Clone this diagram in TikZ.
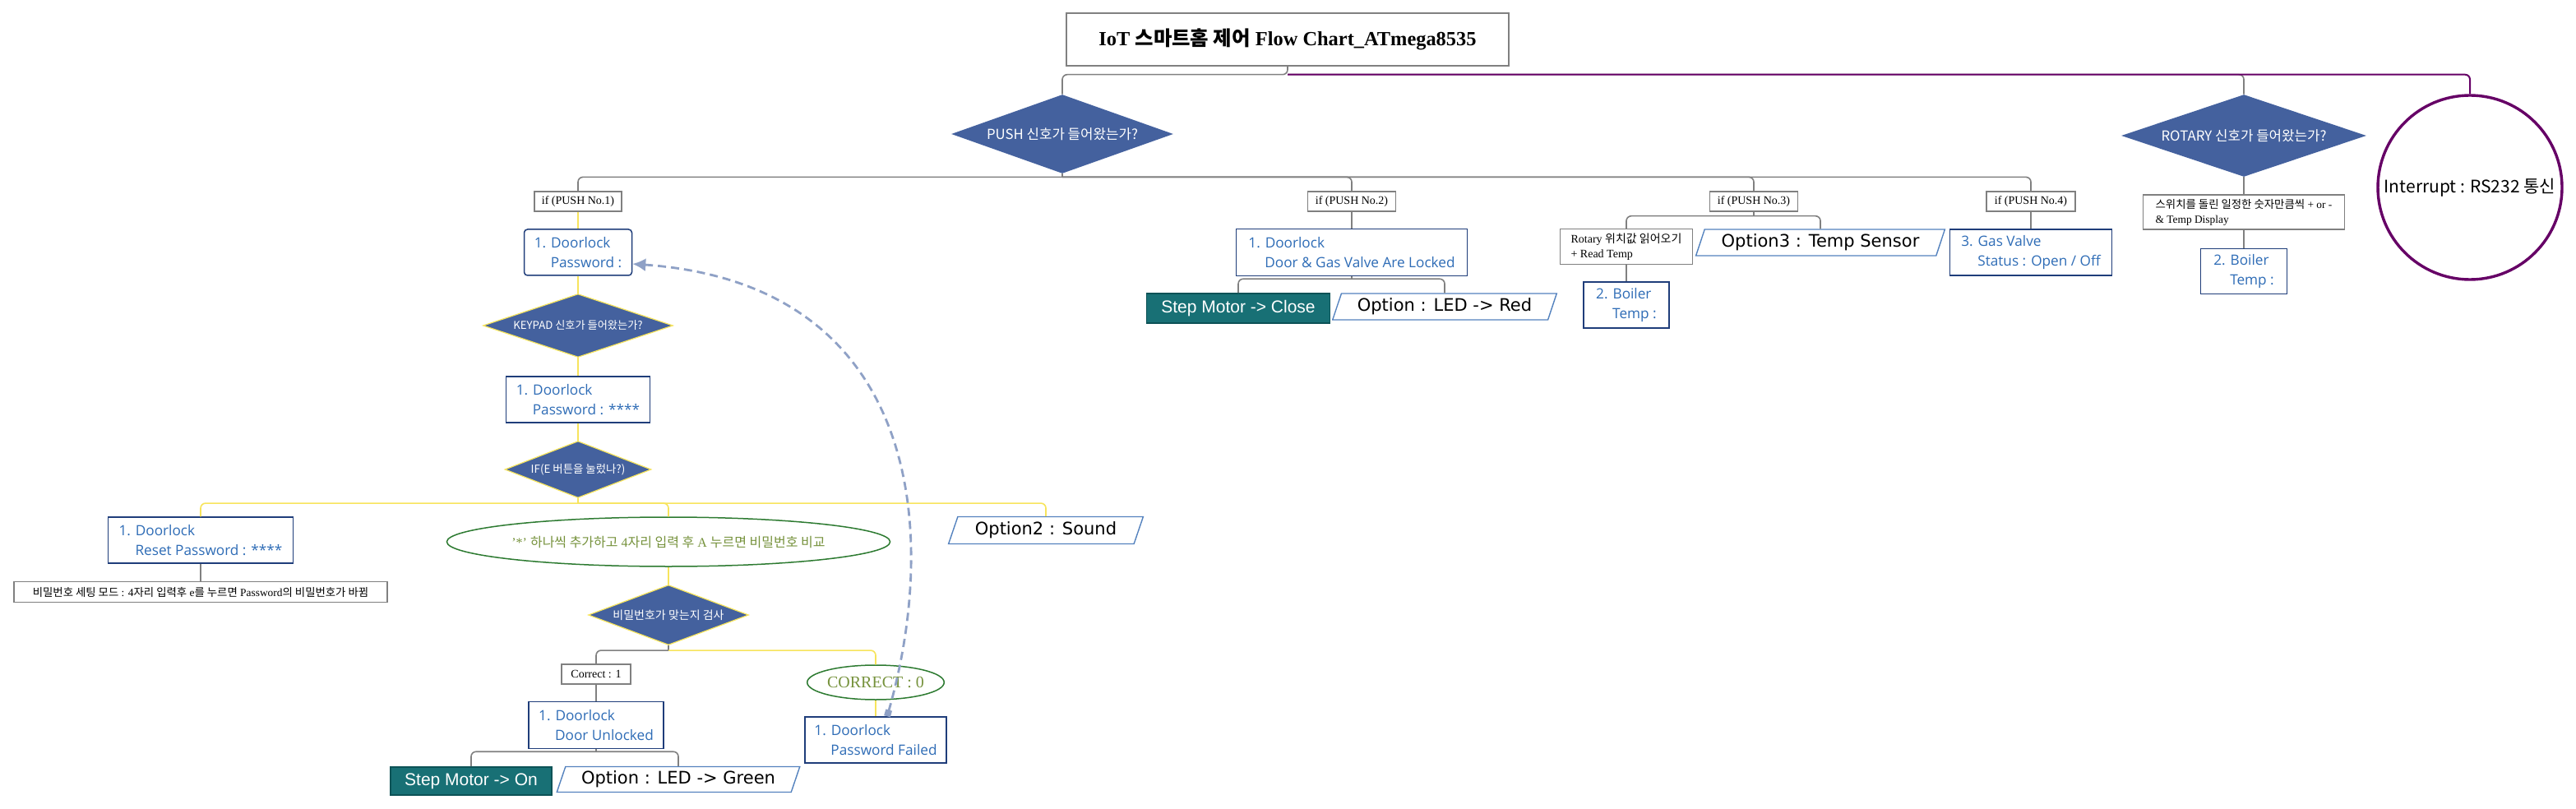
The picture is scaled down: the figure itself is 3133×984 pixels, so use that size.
\documentclass[tikz,border=0pt]{standalone}
\usepackage{fontspec}
\setmainfont{Liberation Serif}
\newfontfamily\cjk{Noto Sans CJK KR}
\newfontfamily\opensans{Open Sans}
\newfontfamily\dejavu{DejaVu Sans}
\newfontfamily\libsans{Liberation Sans}
\usetikzlibrary{shapes.geometric,arrows.meta}
\newcommand{\kr}[1]{{\cjk #1}}
\definecolor{lgray}{RGB}{128,128,128}
\definecolor{lyellow}{RGB}{247,228,92}
\definecolor{dpurple}{RGB}{102,0,102}
\definecolor{boxnavy}{RGB}{31,61,122}
\definecolor{tblue}{RGB}{46,108,182}
\definecolor{tealfill}{RGB}{24,112,117}
\definecolor{tealedge}{RGB}{12,82,86}
\definecolor{optblue}{RGB}{84,130,190}
\definecolor{dblue}{RGB}{68,97,158}
\definecolor{egreen}{RGB}{44,122,48}
\definecolor{eolive}{RGB}{118,146,60}
\definecolor{relblue}{RGB}{143,161,198}
\tikzset{
  gline/.style={draw=lgray,line width=0.8pt,rounded corners=3pt},
  yline/.style={draw=lyellow,line width=0.8pt,rounded corners=3pt},
  pline/.style={draw=dpurple,line width=1pt,rounded corners=3pt},
  graybox/.style={draw=lgray,line width=0.7pt,fill=white,inner sep=0pt,font=\fontsize{7}{9}\selectfont},
  bluebox/.style={draw=boxnavy,line width=0.75pt,fill=white,text=tblue,align=left,inner sep=0pt,font=\opensans\fontsize{8.6}{12}\selectfont},
  tealbox/.style={draw=tealedge,fill=tealfill,text=white,line width=0.9pt,inner sep=0pt,font=\libsans\fontsize{10.5}{12}\selectfont},
  optbox/.style={trapezium,trapezium left angle=66,trapezium right angle=114,trapezium stretches=true,draw=optblue,line width=0.7pt,fill=white,inner sep=0pt,font=\dejavu\fontsize{10.5}{12}\selectfont},
  decision/.style={diamond,fill=dblue,text=white,inner sep=0pt},
  noteell/.style={ellipse,draw=egreen,line width=0.75pt,fill=white,text=eolive,inner sep=0pt},
  relarrow/.style={draw=relblue,line width=1.4pt,dash pattern=on 5pt off 3pt,{Square[length=4pt,width=4pt]}-{Latex[length=8pt,width=8pt]}},
}
\begin{document}
\begin{tikzpicture}[x=0.5pt,y=-0.5pt] % 1 px = 0.5 pt, y hacia abajo
  \useasboundingbox (0,0) rectangle (3133,984);
  \node[graybox,minimum width=269pt,minimum height=32pt,font=\bfseries\fontsize{12.2}{14}\selectfont] (title) at (1566,48) {IoT \kr{스마트홈 제어} Flow Chart\_ATmega8535};
  \node[decision,aspect=2.8,minimum width=135pt,minimum height=48pt,font=\cjk\fontsize{8.4}{10}\selectfont] (push) at (1292,163) {PUSH 신호가 들어왔는가?};
  \node[decision,aspect=3,minimum width=149pt,minimum height=50pt,font=\cjk\fontsize{8.4}{10}\selectfont] (rotary) at (2729,165) {ROTARY 신호가 들어왔는가?};
  \node[circle,draw=dpurple,line width=1.7pt,minimum size=112pt,inner sep=0pt,font=\cjk\fontsize{10.5}{12}\selectfont] (irq) at (3004,228) {Interrupt : RS232 통신};
  \node[graybox,minimum width=53pt,minimum height=12pt] (if1) at (703,245) {if (PUSH No.1)};
  \node[graybox,minimum width=53.5pt,minimum height=12pt] (if2) at (1644,245) {if (PUSH No.2)};
  \node[graybox,minimum width=53.5pt,minimum height=12pt] (if3) at (2133,245) {if (PUSH No.3)};
  \node[graybox,minimum width=54pt,minimum height=12pt] (if4) at (2470,245) {if (PUSH No.4)};
  \node[bluebox,rounded corners=2pt,minimum width=65.5pt,minimum height=28pt] (pw1) at (703,307) {1. Doorlock\\\hspace*{10pt}Password :};
  \node[decision,draw=lyellow,line width=0.6pt,aspect=3,minimum width=115.5pt,minimum height=38.5pt,font=\cjk\fontsize{6.6}{8}\selectfont] (keypad) at (703,396) {KEYPAD 신호가 들어왔는가?};
  \node[bluebox,minimum width=87.5pt,minimum height=28pt] (pw2) at (703,486) {1. Doorlock\\\hspace*{10pt}Password : ****};
  \node[decision,draw=lyellow,line width=0.6pt,aspect=2.6,minimum width=89pt,minimum height=34.5pt,font=\cjk\fontsize{6.7}{8}\selectfont] (ife) at (703,571) {IF(E 버튼을 눌렀나?)};
  \node[bluebox,minimum width=112.5pt,minimum height=28pt] (reset) at (244,657) {1. Doorlock\\\hspace*{10pt}Reset Password : ****};
  \node[graybox,minimum width=227pt,minimum height=12.5pt,font=\fontsize{6.7}{8}\selectfont] (note) at (244,720) {\kr{비밀번호 세팅 모드} : 4\kr{자리 입력후} e\kr{를 누르면} Password\kr{의 비밀번호가 바뀜}};
  \node[noteell,minimum width=234pt,minimum height=30pt,font=\fontsize{8}{10}\selectfont] (hint) at (813,659) {'*' \kr{하나씩 추가하고} 4\kr{자리 입력 후} A \kr{누르면 비밀번호 비교}};
  \node[optbox,minimum width=118.5pt,minimum height=16.5pt] (opt2) at (1272,645) {Option2 : Sound};
  \node[decision,draw=lyellow,line width=0.6pt,aspect=2.67,minimum width=97.5pt,minimum height=36.5pt,font=\cjk\fontsize{7}{8}\selectfont] (check) at (813,748) {비밀번호가 맞는지 검사};
  \node[graybox,minimum width=42pt,minimum height=12pt] (correct1) at (725,820) {Correct : 1};
  \node[noteell,minimum width=73.5pt,minimum height=21pt,font=\fontsize{10}{12}\selectfont] (correct0) at (1065,830) {CORRECT : 0};
  \node[bluebox,minimum width=82pt,minimum height=28.5pt] (unlocked) at (725,882) {1. Doorlock\\\hspace*{10pt}Door Unlocked};
  \node[bluebox,minimum width=86pt,minimum height=28pt] (failed) at (1065,900) {1. Doorlock\\\hspace*{10pt}Password Failed};
  \node[tealbox,minimum width=98pt,minimum height=17pt] (stepon) at (573,950) {Step Motor -> On};
  \node[optbox,minimum width=148pt,minimum height=15.5pt] (optgreen) at (825,948) {Option : LED -> Green};
  \node[bluebox,minimum width=140.5pt,minimum height=28.5pt] (locked) at (1644,307) {1. Doorlock\\\hspace*{10pt}Door \& Gas Valve Are Locked};
  \node[tealbox,minimum width=111.5pt,minimum height=18pt] (stepclose) at (1506,375) {Step Motor -> Close};
  \node[optbox,minimum width=136.5pt,minimum height=16pt] (optred) at (1757,373) {Option : LED -> Red};
  \node[graybox,align=left,minimum width=80.5pt,minimum height=21.5pt] (rotread) at (1978,300) {Rotary \kr{위치값 읽어오기}\\+ Read Temp};
  \node[optbox,minimum width=151.5pt,minimum height=16pt] (opt3) at (2214,295) {Option3 : Temp Sensor};
  \node[bluebox,minimum width=52pt,minimum height=28pt] (boiler1) at (1978,371) {2. Boiler\\\hspace*{10pt}Temp :};
  \node[bluebox,minimum width=98.5pt,minimum height=28pt] (gas) at (2470,307) {3. Gas Valve\\\hspace*{10pt}Status : Open / Off};
  \node[graybox,align=left,minimum width=122.5pt,minimum height=21pt,font=\fontsize{6.7}{9}\selectfont] (rotdesc) at (2729,258) {\kr{스위치를 돌린 일정한 숫자만큼씩} + or -\\\& Temp Display};
  \node[bluebox,minimum width=52.5pt,minimum height=27.5pt] (boiler2) at (2729,330) {2. Boiler\\\hspace*{10pt}Temp :};
  \draw[gline] (title.south) -- ([yshift=-5pt]title.south) -| (push.north);
  \draw[gline] ([yshift=-5pt]title.south) -| (rotary.north);
  \draw[pline] ([yshift=-5pt]title.south) -| (irq.north);
  \draw[gline] (push.south) -- ++(0,4);
  \draw[gline] ([yshift=-2pt]push.south) -| (if1.north);
  \draw[gline] ([yshift=-2pt]push.south) -| (if2.north);
  \draw[gline] ([yshift=-2pt]push.south) -| (if3.north);
  \draw[gline] ([yshift=-2pt]push.south) -| (if4.north);
  \draw[yline] (if1) -- (pw1);
  \draw[yline] (pw1) -- (keypad);
  \draw[yline] (keypad) -- (pw2);
  \draw[yline] (pw2) -- (ife);
  \draw[yline] (ife.south) -- ++(0,6);
  \draw[yline] ([yshift=-3pt]ife.south) -| (reset.north);
  \draw[yline] ([yshift=-3pt]ife.south) -| (hint.north);
  \draw[yline] ([yshift=-3pt]ife.south) -| (opt2.north);
  \draw[gline] (reset) -- (note);
  \draw[yline] (hint) -- (check);
  \draw[gline] (check.south) -- ++(0,6);
  \draw[gline] ([yshift=-3pt]check.south) -| (correct1.north);
  \draw[yline] ([yshift=-3pt]check.south) -| (correct0.north);
  \draw[gline] (correct1) -- (unlocked);
  \draw[yline] (correct0) -- (failed);
  \draw[gline] (unlocked.south) -- ++(0,3);
  \draw[gline] ([yshift=-1.5pt]unlocked.south) -| (stepon.north);
  \draw[gline] ([yshift=-1.5pt]unlocked.south) -| (optgreen.north);
  \draw[gline] (if2) -- (locked);
  \draw[gline] (locked.south) -- ++(0,3);
  \draw[gline] ([yshift=-1.5pt]locked.south) -| (stepclose.north);
  \draw[gline] ([yshift=-1.5pt]locked.south) -| (optred.north);
  \draw[gline] (if3.south) -- ++(0,5);
  \draw[gline] ([yshift=-2.5pt]if3.south) -| (rotread.north);
  \draw[gline] ([yshift=-2.5pt]if3.south) -| (opt3.north);
  \draw[gline] (rotread) -- (boiler1);
  \draw[gline] (if4) -- (gas);
  \draw[gline] (rotary) -- (rotdesc);
  \draw[gline] (rotdesc) -- (boiler2);
  \draw[relarrow] ([xshift=7pt]failed.north) .. controls (1145,640) and (1115,345) .. ([yshift=-7pt]pw1.east);
\end{tikzpicture}
\end{document}
